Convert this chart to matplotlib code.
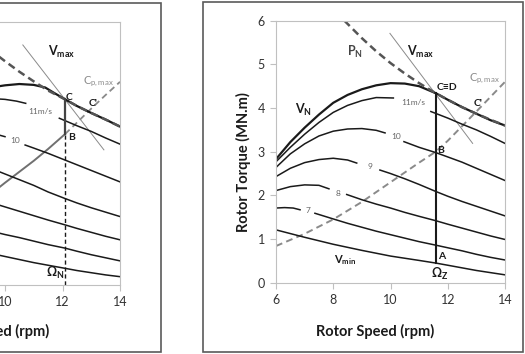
import matplotlib
matplotlib.use('Agg')
import matplotlib.pyplot as plt
from matplotlib.patches import Rectangle

plt.rcParams['font.family'] = ['Lato', 'DejaVu Sans']
plt.rcParams['mathtext.fontset'] = 'custom'
plt.rcParams['mathtext.rm'] = 'Lato'
plt.rcParams['mathtext.bf'] = 'Lato:bold'
plt.rcParams['mathtext.it'] = 'Lato:italic'

# ---------------- data : right panel (rotor speed rpm, torque MN.m) -------------
xticks = [6, 8, 10, 12, 14]
yticks = [0, 1, 2, 3, 4, 5, 6]

R_vn_x = [6, 6.5, 7, 7.5, 8, 8.5, 9, 9.5, 10, 10.5, 11, 11.58, 12, 12.5, 13, 13.5, 14]
R_vn_y = [2.83, 3.22, 3.55, 3.85, 4.12, 4.30, 4.43, 4.52, 4.57, 4.56, 4.50, 4.34, 4.19, 4.02, 3.87, 3.72, 3.60]
R_pn_x = [8.39, 9, 9.5, 10, 10.5, 11, 11.58, 12, 12.5, 13, 13.5, 14]
R_pn_y = [6.00, 5.60, 5.30, 5.03, 4.79, 4.57, 4.34, 4.19, 4.02, 3.87, 3.73, 3.60]
R_v11a_x = [6, 6.5, 7, 7.5, 8, 8.5, 9, 9.5, 10.1]
R_v11a_y = [2.77, 3.10, 3.40, 3.67, 3.90, 4.06, 4.17, 4.24, 4.23]
R_v11b_x = [11.41, 12, 12.5, 13, 13.5, 14]
R_v11b_y = [3.92, 3.77, 3.63, 3.50, 3.35, 3.19]
R_v10a_x = [6, 6.5, 7, 7.5, 8, 8.5, 9, 9.5, 9.81]
R_v10a_y = [2.64, 2.95, 3.18, 3.36, 3.47, 3.52, 3.53, 3.49, 3.43]
R_v10b_x = [10.47, 11, 11.58, 12, 12.5, 13, 13.5, 14]
R_v10b_y = [3.23, 3.10, 2.98, 2.88, 2.76, 2.62, 2.48, 2.34]
R_v9a_x = [6, 6.5, 7, 7.5, 8, 8.5, 8.82]
R_v9a_y = [2.43, 2.62, 2.75, 2.82, 2.85, 2.81, 2.74]
R_v9b_x = [9.63, 10, 10.5, 11, 11.58, 12, 12.5, 13, 13.5, 14]
R_v9b_y = [2.58, 2.50, 2.38, 2.25, 2.09, 1.98, 1.86, 1.75, 1.64, 1.53]
R_v8a_x = [6, 6.5, 7, 7.5, 7.85]
R_v8a_y = [2.11, 2.20, 2.24, 2.23, 2.15]
R_v8b_x = [8.47, 9, 9.5, 10, 10.5, 11, 11.58, 12, 12.5, 13, 13.5, 14]
R_v8b_y = [2.02, 1.90, 1.80, 1.71, 1.61, 1.52, 1.42, 1.34, 1.25, 1.16, 1.07, 0.99]
R_v7a_x = [6, 6.3, 6.6, 6.84]
R_v7a_y = [1.71, 1.72, 1.71, 1.67]
R_v7b_x = [7.36, 8, 8.5, 9, 9.5, 10, 10.5, 11, 11.58, 12, 12.5, 13, 13.5, 14]
R_v7b_y = [1.59, 1.46, 1.36, 1.27, 1.18, 1.10, 1.02, 0.94, 0.86, 0.80, 0.73, 0.65, 0.58, 0.52]
R_vmin_x = [6, 7, 8, 9, 10, 11, 11.58, 12, 13, 14]
R_vmin_y = [1.21, 1.04, 0.88, 0.74, 0.61, 0.51, 0.45, 0.40, 0.28, 0.18]
R_cp_x = [6, 7, 8, 9, 10, 11, 11.58, 12, 13, 14]
R_cp_y = [0.84, 1.12, 1.45, 1.85, 2.30, 2.75, 3.00, 3.25, 3.92, 4.60]
R_vmax_x = [9.98, 12.87]
R_vmax_y = [5.71, 3.19]
R_omz_x = [11.58, 11.58]
R_omz_y = [0.45, 4.34]

# ---------------- data : left panel (only right part visible) -------------------
L_vn_x = [9.5, 10, 10.5, 11, 11.4, 11.7, 12.09, 12.5, 13, 13.5, 14]
L_vn_y = [4.50, 4.55, 4.58, 4.56, 4.50, 4.38, 4.23, 4.08, 3.92, 3.77, 3.61]
L_pn_x = [9.6, 10, 10.5, 11, 11.5, 12.09, 12.5, 13, 13.5, 14]
L_pn_y = [5.30, 5.10, 4.86, 4.64, 4.43, 4.23, 4.08, 3.92, 3.77, 3.61]
L_v11a_x = [9.5, 10.0, 10.4, 10.72]
L_v11a_y = [4.25, 4.23, 4.19, 4.14]
L_v11b_x = [11.89, 12.5, 13, 13.5, 14]
L_v11b_y = [3.80, 3.63, 3.50, 3.35, 3.21]
L_v10a_x = [9.5, 10.0]
L_v10a_y = [3.47, 3.38]
L_v10b_x = [10.7, 11, 11.5, 12, 12.5, 13, 13.5, 14]
L_v10b_y = [3.19, 3.12, 3.00, 2.87, 2.74, 2.61, 2.48, 2.35]
L_v9_x = [9.5, 10, 10.5, 11, 11.5, 12.09, 12.5, 13, 13.5, 14]
L_v9_y = [2.66, 2.53, 2.40, 2.27, 2.12, 1.97, 1.87, 1.76, 1.66, 1.56]
L_v8_x = [9.5, 10, 10.5, 11, 11.5, 12.09, 12.5, 13, 13.5, 14]
L_v8_y = [1.88, 1.78, 1.68, 1.58, 1.48, 1.37, 1.29, 1.20, 1.11, 1.03]
L_v7_x = [9.5, 10, 10.5, 11, 11.5, 12.09, 12.5, 13, 13.5, 14]
L_v7_y = [1.23, 1.15, 1.08, 1.00, 0.92, 0.84, 0.77, 0.69, 0.62, 0.55]
L_vmin_x = [9.5, 10, 10.5, 11, 11.5, 12.09, 12.5, 13, 13.5, 14]
L_vmin_y = [0.72, 0.65, 0.58, 0.51, 0.45, 0.38, 0.33, 0.28, 0.23, 0.19]
L_cpa_x = [9.5, 10, 10.5, 11, 11.5, 12.09]
L_cpa_y = [2.07, 2.33, 2.58, 2.83, 3.10, 3.44]
L_cpb_x = [12.09, 12.5, 13, 13.5, 14]
L_cpb_y = [3.44, 3.70, 4.02, 4.33, 4.63]
L_vmax_x = [10.62, 13.44]
L_vmax_y = [5.47, 3.08]
L_omn_x = [12.09, 12.09]
L_omn_solid_y = [3.44, 4.23]
L_omn_dash_y = [0.0, 3.44]

# ---------------- layout helpers ------------------------------------------------
W, H = 525, 354
fig = plt.figure(figsize=(W / 100, H / 100), dpi=100)


def rect(l, t, r, b):
    return [l / W, 1 - b / H, (r - l) / W, (b - t) / H]


BLACK = '#1a1a1a'
GREY = '#8a8a8a'
DGREY = '#555555'
TXT = '#333333'


def style(ax):
    ax.set_xlim(6, 14)
    ax.set_ylim(0, 6)
    ax.set_xticks(xticks)
    ax.set_yticks(yticks)
    for s in ax.spines.values():
        s.set_color('#c0c0c0')
        s.set_linewidth(0.8)
    ax.tick_params(direction='out', length=4, width=0.8, color='#c0c0c0',
                   labelcolor=TXT, labelsize=9, pad=4)
    ax.set_facecolor('white')


# ---------------- right panel ---------------------------------------------------
axR = fig.add_axes(rect(276, 20.7, 505, 282.7))
style(axR)
lw = 1.1
axR.plot(R_vmax_x, R_vmax_y, color=GREY, lw=0.7)
axR.plot(R_cp_x, R_cp_y, color=GREY, lw=1.4, ls=(0, (3.5, 2.2)))
for xs, ys in [(R_v11a_x, R_v11a_y), (R_v11b_x, R_v11b_y), (R_v10a_x, R_v10a_y),
               (R_v10b_x, R_v10b_y), (R_v9a_x, R_v9a_y), (R_v9b_x, R_v9b_y),
               (R_v8a_x, R_v8a_y), (R_v8b_x, R_v8b_y), (R_v7a_x, R_v7a_y),
               (R_v7b_x, R_v7b_y), (R_vmin_x, R_vmin_y)]:
    axR.plot(xs, ys, color=BLACK, lw=lw)
axR.plot(R_vn_x, R_vn_y, color=BLACK, lw=1.6)
axR.plot(R_pn_x, R_pn_y, color=DGREY, lw=1.8, ls=(0, (3, 1.8)))
axR.plot(R_omz_x, R_omz_y, color=BLACK, lw=1.5)

def lab(ax, x, y, s, size=8, color=BLACK, bold=True, ha='center'):
    ax.text(x, y, s, fontsize=size, color=color, ha=ha, va='center',
            fontweight='bold' if bold else 'normal')

lab(axR, 8.76, 5.29, r'P$_\mathbf{N}$', size=9, color='#444444')
lab(axR, 11.05, 5.29, r'V$_\mathbf{max}$', size=9)
lab(axR, 13.3, 4.68, r'C$_\mathrm{p,max}$', size=8, color=GREY, bold=False)
lab(axR, 11.62, 4.47, 'C\u2261D', size=7.5, ha='left')
lab(axR, 13.07, 4.11, "C'", size=7.5)
lab(axR, 6.95, 3.95, r'V$_\mathbf{N}$', size=9)
lab(axR, 10.8, 4.12, '11m/s', size=6, color='#666666', bold=False)
lab(axR, 10.18, 3.34, '10', size=6, color='#666666', bold=False)
lab(axR, 9.28, 2.66, '9', size=6, color='#666666', bold=False)
lab(axR, 8.18, 2.05, '8', size=6, color='#666666', bold=False)
lab(axR, 7.1, 1.66, '7', size=6, color='#666666', bold=False)
lab(axR, 11.62, 3.03, 'B', size=7.5, ha='left')
lab(axR, 11.65, 0.6, 'A', size=7.5, ha='left')
lab(axR, 8.42, 0.52, r'V$_\mathbf{min}$', size=8)
lab(axR, 11.72, 0.2, r'$\mathbf{\Omega}_\mathbf{Z}$', size=9)

fig.text(243 / W, 1 - 162 / H, 'Rotor Torque (MN.m)', rotation=90, ha='center',
         va='center', fontsize=10.5, fontweight='bold', color=BLACK)
fig.text(375 / W, 1 - 331 / H, 'Rotor Speed (rpm)', ha='center', va='center',
         fontsize=10.5, fontweight='bold', color=BLACK)

# ---------------- left panel (cut off) ------------------------------------------
axL = fig.add_axes(rect(-110, 21.7, 120, 285))
style(axL)
axL.plot(L_vmax_x, L_vmax_y, color=GREY, lw=0.7)
axL.plot(L_cpa_x, L_cpa_y, color='#707070', lw=1.4)
axL.plot(L_cpb_x, L_cpb_y, color=GREY, lw=1.3, ls=(0, (3.5, 2.2)))
for xs, ys in [(L_v11a_x, L_v11a_y), (L_v11b_x, L_v11b_y), (L_v10a_x, L_v10a_y),
               (L_v10b_x, L_v10b_y), (L_v9_x, L_v9_y), (L_v8_x, L_v8_y),
               (L_v7_x, L_v7_y), (L_vmin_x, L_vmin_y)]:
    axL.plot(xs, ys, color=BLACK, lw=lw)
axL.plot(L_vn_x, L_vn_y, color=BLACK, lw=1.6)
axL.plot(L_pn_x, L_pn_y, color=DGREY, lw=1.8, ls=(0, (3, 1.8)))
axL.plot(L_omn_x, L_omn_solid_y, color='#444444', lw=1.6)
axL.plot(L_omn_x, L_omn_dash_y, color=BLACK, lw=1.0, ls=(0, (3, 2)))

lab(axL, 11.97, 5.31, r'V$_\mathbf{max}$', size=9)
lab(axL, 13.25, 4.63, r'C$_\mathrm{p,max}$', size=8, color=GREY, bold=False)
lab(axL, 12.12, 4.27, 'C', size=7.5, ha='left')
lab(axL, 13.07, 4.14, "C'", size=7.5)
lab(axL, 11.22, 3.95, '11m/s', size=6, color='#666666', bold=False)
lab(axL, 10.35, 3.30, '10', size=6, color='#666666', bold=False)
lab(axL, 12.2, 3.36, 'B', size=7.5, ha='left')
lab(axL, 11.74, 0.27, r'$\mathbf{\Omega}_\mathbf{N}$', size=9)

fig.text(-10 / W, 1 - 331 / H, 'Rotor Speed (rpm)', ha='center', va='center',
         fontsize=10.5, fontweight='bold', color=BLACK)

# ---------------- panel frames --------------------------------------------------
fig.add_artist(Rectangle((-200 / W, 1 - 351.7 / H), (161 + 200) / W, 349 / H,
                         transform=fig.transFigure, fill=False, ec='#5a5a5a', lw=1.2))
fig.add_artist(Rectangle((203.3 / W, 1 - 351.7 / H), (522.5 - 203.3) / W, 349.4 / H,
                         transform=fig.transFigure, fill=False, ec='#5a5a5a', lw=1.2))

fig.savefig('out.png', dpi=100, facecolor='white')
